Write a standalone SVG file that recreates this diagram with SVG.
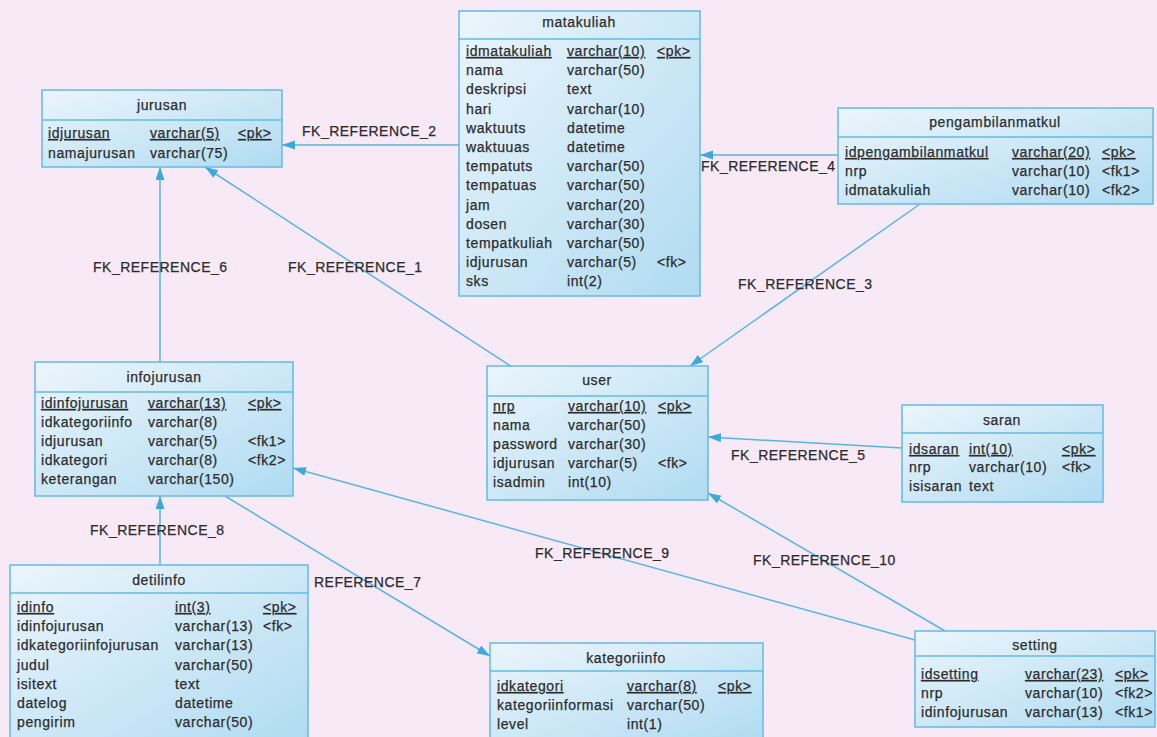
<svg xmlns="http://www.w3.org/2000/svg" width="1157" height="737" viewBox="0 0 1157 737">
  <defs>
    <linearGradient id="tbl" x1="0" y1="0" x2="1" y2="1">
      <stop offset="0" stop-color="#ecf5fc"/>
      <stop offset="1" stop-color="#afdbf1"/>
    </linearGradient>
    <marker id="arrow" markerUnits="userSpaceOnUse" markerWidth="14" markerHeight="10" refX="13" refY="4.5" orient="auto">
      <path d="M0,0 L13,4.5 L0,9 z" fill="#3aa9dc"/>
    </marker>
    <style>
      .box { fill: url(#tbl); stroke: #62bbe3; stroke-width: 1.5; }
      .sep { stroke: #62bbe3; stroke-width: 1.5; }
      .t { font-family: "Liberation Sans", Arial, sans-serif; font-size: 14px; letter-spacing: 0.6px; fill: #2c2c2c; stroke: #2c2c2c; stroke-width: 0.25px; }
      .ttl { text-anchor: middle; }
      .pk { text-decoration: underline; }
      .lbl { font-family: "Liberation Sans", Arial, sans-serif; font-size: 14px; letter-spacing: 0.5px; fill: #2c2c2c; stroke: #2c2c2c; stroke-width: 0.25px; }
      .fk { fill: none; stroke: #55b6e2; stroke-width: 1.5; marker-end: url(#arrow); }
    </style>
  </defs>

  <rect width="1157" height="737" fill="#f8e9f7"/>

  <!-- relationships -->
  <g id="connectors">
    <line class="fk" x1="459" y1="145" x2="282" y2="145"/>
    <line class="fk" x1="838" y1="155" x2="700" y2="155"/>
    <line class="fk" x1="920" y1="204" x2="690" y2="366"/>
    <line class="fk" x1="512" y1="367" x2="205" y2="167"/>
    <line class="fk" x1="160" y1="362" x2="160" y2="167"/>
    <line class="fk" x1="902" y1="448" x2="708" y2="437"/>
    <line class="fk" x1="945" y1="631" x2="708" y2="493"/>
    <line class="fk" x1="915" y1="640" x2="293" y2="468"/>
    <line class="fk" x1="160" y1="565" x2="160" y2="496"/>
    <line class="fk" x1="225" y1="496" x2="490" y2="656"/>
    <text class="lbl" x="302" y="136">FK_REFERENCE_2</text>
    <text class="lbl" x="701" y="171">FK_REFERENCE_4</text>
    <text class="lbl" x="738" y="289">FK_REFERENCE_3</text>
    <text class="lbl" x="288" y="272">FK_REFERENCE_1</text>
    <text class="lbl" x="93" y="272">FK_REFERENCE_6</text>
    <text class="lbl" x="731" y="460">FK_REFERENCE_5</text>
    <text class="lbl" x="753" y="565">FK_REFERENCE_10</text>
    <text class="lbl" x="535" y="558">FK_REFERENCE_9</text>
    <text class="lbl" x="90" y="535">FK_REFERENCE_8</text>
    <text class="lbl" x="314" y="587">REFERENCE_7</text>
  </g>

  <!-- matakuliah -->
  <g id="matakuliah">
    <rect class="box" x="459" y="11" width="241" height="285"/>
    <line class="sep" x1="459" y1="39" x2="700" y2="39"/>
    <text class="t ttl" x="579" y="27">matakuliah</text>
    <text class="t pk" x="466" y="56">idmatakuliah</text><text class="t pk" x="567" y="56">varchar(10)</text><text class="t pk" x="657" y="56">&lt;pk&gt;</text>
    <text class="t" x="466" y="75">nama</text><text class="t" x="567" y="75">varchar(50)</text>
    <text class="t" x="466" y="94">deskripsi</text><text class="t" x="567" y="94">text</text>
    <text class="t" x="466" y="114">hari</text><text class="t" x="567" y="114">varchar(10)</text>
    <text class="t" x="466" y="133">waktuuts</text><text class="t" x="567" y="133">datetime</text>
    <text class="t" x="466" y="152">waktuuas</text><text class="t" x="567" y="152">datetime</text>
    <text class="t" x="466" y="171">tempatuts</text><text class="t" x="567" y="171">varchar(50)</text>
    <text class="t" x="466" y="190">tempatuas</text><text class="t" x="567" y="190">varchar(50)</text>
    <text class="t" x="466" y="210">jam</text><text class="t" x="567" y="210">varchar(20)</text>
    <text class="t" x="466" y="229">dosen</text><text class="t" x="567" y="229">varchar(30)</text>
    <text class="t" x="466" y="248">tempatkuliah</text><text class="t" x="567" y="248">varchar(50)</text>
    <text class="t" x="466" y="267">idjurusan</text><text class="t" x="567" y="267">varchar(5)</text><text class="t" x="657" y="267">&lt;fk&gt;</text>
    <text class="t" x="466" y="286">sks</text><text class="t" x="567" y="286">int(2)</text>
  </g>

  <!-- jurusan -->
  <g id="jurusan">
    <rect class="box" x="42" y="90" width="240" height="77"/>
    <line class="sep" x1="42" y1="120" x2="282" y2="120"/>
    <text class="t ttl" x="162" y="110">jurusan</text>
    <text class="t pk" x="48" y="138">idjurusan</text><text class="t pk" x="150" y="138">varchar(5)</text><text class="t pk" x="238" y="138">&lt;pk&gt;</text>
    <text class="t" x="48" y="158">namajurusan</text><text class="t" x="150" y="158">varchar(75)</text>
  </g>

  <!-- pengambilanmatkul -->
  <g id="pengambilanmatkul">
    <rect class="box" x="838" y="108" width="315" height="96"/>
    <line class="sep" x1="838" y1="137" x2="1153" y2="137"/>
    <text class="t ttl" x="995" y="127">pengambilanmatkul</text>
    <text class="t pk" x="845" y="157">idpengambilanmatkul</text><text class="t pk" x="1012" y="157">varchar(20)</text><text class="t pk" x="1102" y="157">&lt;pk&gt;</text>
    <text class="t" x="845" y="176">nrp</text><text class="t" x="1012" y="176">varchar(10)</text><text class="t" x="1102" y="176">&lt;fk1&gt;</text>
    <text class="t" x="845" y="195">idmatakuliah</text><text class="t" x="1012" y="195">varchar(10)</text><text class="t" x="1102" y="195">&lt;fk2&gt;</text>
  </g>

  <!-- infojurusan -->
  <g id="infojurusan">
    <rect class="box" x="35" y="362" width="258" height="134"/>
    <line class="sep" x1="35" y1="392" x2="293" y2="392"/>
    <text class="t ttl" x="164" y="382">infojurusan</text>
    <text class="t pk" x="41" y="408">idinfojurusan</text><text class="t pk" x="148" y="408">varchar(13)</text><text class="t pk" x="248" y="408">&lt;pk&gt;</text>
    <text class="t" x="41" y="427">idkategoriinfo</text><text class="t" x="148" y="427">varchar(8)</text>
    <text class="t" x="41" y="446">idjurusan</text><text class="t" x="148" y="446">varchar(5)</text><text class="t" x="248" y="446">&lt;fk1&gt;</text>
    <text class="t" x="41" y="465">idkategori</text><text class="t" x="148" y="465">varchar(8)</text><text class="t" x="248" y="465">&lt;fk2&gt;</text>
    <text class="t" x="41" y="484">keterangan</text><text class="t" x="148" y="484">varchar(150)</text>
  </g>

  <!-- user -->
  <g id="user">
    <rect class="box" x="487" y="366" width="221" height="134"/>
    <line class="sep" x1="487" y1="396" x2="708" y2="396"/>
    <text class="t ttl" x="597" y="385">user</text>
    <text class="t pk" x="493" y="411">nrp</text><text class="t pk" x="568" y="411">varchar(10)</text><text class="t pk" x="658" y="411">&lt;pk&gt;</text>
    <text class="t" x="493" y="430">nama</text><text class="t" x="568" y="430">varchar(50)</text>
    <text class="t" x="493" y="449">password</text><text class="t" x="568" y="449">varchar(30)</text>
    <text class="t" x="493" y="468">idjurusan</text><text class="t" x="568" y="468">varchar(5)</text><text class="t" x="658" y="468">&lt;fk&gt;</text>
    <text class="t" x="493" y="487">isadmin</text><text class="t" x="568" y="487">int(10)</text>
  </g>

  <!-- saran -->
  <g id="saran">
    <rect class="box" x="902" y="405" width="201" height="97"/>
    <line class="sep" x1="902" y1="433" x2="1103" y2="433"/>
    <text class="t ttl" x="1002" y="425">saran</text>
    <text class="t pk" x="909" y="454">idsaran</text><text class="t pk" x="969" y="454">int(10)</text><text class="t pk" x="1062" y="454">&lt;pk&gt;</text>
    <text class="t" x="909" y="472">nrp</text><text class="t" x="969" y="472">varchar(10)</text><text class="t" x="1062" y="472">&lt;fk&gt;</text>
    <text class="t" x="909" y="491">isisaran</text><text class="t" x="969" y="491">text</text>
  </g>

  <!-- detilinfo -->
  <g id="detilinfo">
    <rect class="box" x="10" y="565" width="298" height="180"/>
    <line class="sep" x1="10" y1="593" x2="308" y2="593"/>
    <text class="t ttl" x="159" y="585">detilinfo</text>
    <text class="t pk" x="17" y="612">idinfo</text><text class="t pk" x="175" y="612">int(3)</text><text class="t pk" x="263" y="612">&lt;pk&gt;</text>
    <text class="t" x="17" y="631">idinfojurusan</text><text class="t" x="175" y="631">varchar(13)</text><text class="t" x="263" y="631">&lt;fk&gt;</text>
    <text class="t" x="17" y="650">idkategoriinfojurusan</text><text class="t" x="175" y="650">varchar(13)</text>
    <text class="t" x="17" y="670">judul</text><text class="t" x="175" y="670">varchar(50)</text>
    <text class="t" x="17" y="689">isitext</text><text class="t" x="175" y="689">text</text>
    <text class="t" x="17" y="708">datelog</text><text class="t" x="175" y="708">datetime</text>
    <text class="t" x="17" y="727">pengirim</text><text class="t" x="175" y="727">varchar(50)</text>
  </g>

  <!-- kategoriinfo -->
  <g id="kategoriinfo">
    <rect class="box" x="490" y="643" width="273" height="100"/>
    <line class="sep" x1="490" y1="671" x2="763" y2="671"/>
    <text class="t ttl" x="626" y="663">kategoriinfo</text>
    <text class="t pk" x="497" y="691">idkategori</text><text class="t pk" x="627" y="691">varchar(8)</text><text class="t pk" x="718" y="691">&lt;pk&gt;</text>
    <text class="t" x="497" y="710">kategoriinformasi</text><text class="t" x="627" y="710">varchar(50)</text>
    <text class="t" x="497" y="729">level</text><text class="t" x="627" y="729">int(1)</text>
  </g>

  <!-- setting -->
  <g id="setting">
    <rect class="box" x="915" y="631" width="240" height="96"/>
    <line class="sep" x1="915" y1="656" x2="1155" y2="656"/>
    <text class="t ttl" x="1035" y="650">setting</text>
    <text class="t pk" x="921" y="679">idsetting</text><text class="t pk" x="1025" y="679">varchar(23)</text><text class="t pk" x="1115" y="679">&lt;pk&gt;</text>
    <text class="t" x="921" y="698">nrp</text><text class="t" x="1025" y="698">varchar(10)</text><text class="t" x="1115" y="698">&lt;fk2&gt;</text>
    <text class="t" x="921" y="717">idinfojurusan</text><text class="t" x="1025" y="717">varchar(13)</text><text class="t" x="1115" y="717">&lt;fk1&gt;</text>
  </g>
</svg>
